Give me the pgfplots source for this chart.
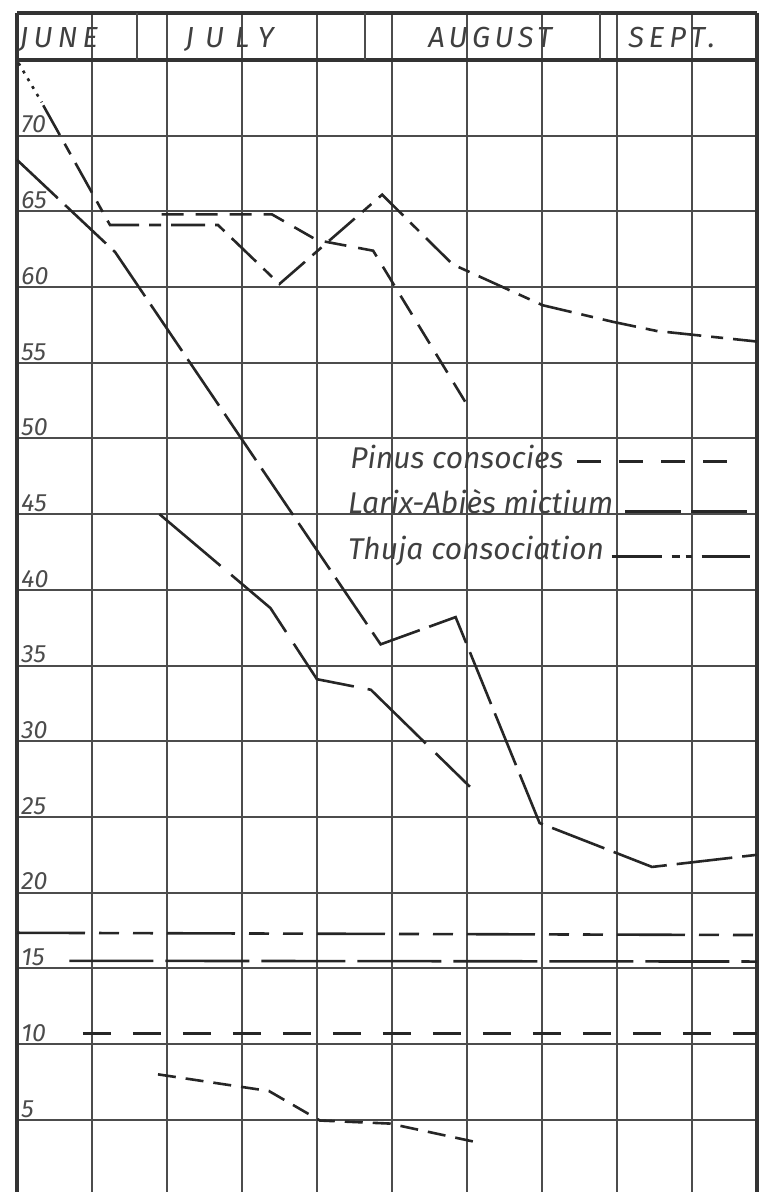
\documentclass[border=0pt]{standalone}
\usepackage{fontspec}
\setmainfont{Fira Sans}
\usepackage{pgfplots}
\pgfplotsset{compat=1.18}

\tikzset{
  ink/.style={draw=black!85, line width=1.3pt},
  thuja/.style={ink, dash pattern=on 17pt off 5pt on 6pt off 5pt},
  thujalong/.style={ink, dash pattern=on 34pt off 7pt on 10pt off 7pt on 10pt off 7pt},
  larix/.style={ink, dash pattern=on 28pt off 5pt},
  larixlong/.style={ink, dash pattern=on 40pt off 7pt},
  larixflat/.style={ink, dash pattern=on 42pt off 6pt},
  pinus/.style={ink, dash pattern=on 11pt off 6pt},
  pinusflat/.style={ink, dash pattern=on 14pt off 11pt},
  pinusleg/.style={ink, dash pattern=on 12pt off 9pt},
  lettering/.style={font=\itshape\fontsize{14.5}{15}\selectfont, text=black!75, inner sep=0pt},
}

\begin{document}
\begin{tikzpicture}
\begin{axis}[
  scale only axis, width=370pt, height=589.5pt,
  xmin=0, xmax=9.87, ymin=0.23, ymax=78.1,
  clip=false,
  axis line style={draw=none},
  xtick={1,...,9}, xticklabels={},
  ytick={5,10,...,70},
  yticklabels={5,10,15,20,25,30,35,40,45,50,55,60,65,70},
  major tick length=0pt,
  grid=major,
  grid style={line width=0.95pt, draw=black!70},
  yticklabel style={anchor=south west, inner sep=0pt, xshift=2pt, yshift=1pt,
    font=\itshape\fontsize{12.5}{13}\selectfont, text=black!70},
]
\coordinate (SW) at (rel axis cs:0,0);
\coordinate (NE) at (rel axis cs:1,1);

% frame and month header
\draw[line width=2pt, black!80] (axis cs:0,0.23) -- (axis cs:0,78.1);
\draw[line width=2.4pt, black!80] (axis cs:9.87,0.23) -- (axis cs:9.87,78.1);
\draw[line width=1.7pt, black!80] (axis cs:0,75) -- (axis cs:9.87,75);
\draw[line width=1.7pt, black!80] (axis cs:0,78.1) -- (axis cs:9.87,78.1);
\draw[line width=1pt, black!70] (axis cs:1.6,75) -- (axis cs:1.6,78.1);
\draw[line width=1pt, black!70] (axis cs:4.64,75) -- (axis cs:4.64,78.1);
\draw[line width=1pt, black!70] (axis cs:7.77,75) -- (axis cs:7.77,78.1);
\node[lettering, anchor=base west] at (axis cs:0.03,75.8) {\addfontfeature{LetterSpace=18}JUNE};
\node[lettering, anchor=base west] at (axis cs:2.24,75.8) {\addfontfeature{LetterSpace=38}JULY};
\node[lettering, anchor=base west] at (axis cs:5.48,75.8) {\addfontfeature{LetterSpace=15}AUGUST};
\node[lettering, anchor=base west] at (axis cs:8.15,75.8) {\addfontfeature{LetterSpace=17}SEPT.};

% Thuja consociation
\addplot[ink, dash pattern=on 1.5pt off 3pt] coordinates {(0.02,74.8) (0.33,72.2)};
\addplot[thuja] coordinates {
  (0.35,72.0) (1.24,64.1) (2.68,64.1) (3.5,60.2) (4.87,66.1)
  (5.81,61.5) (7.01,58.8) (7.95,57.7) (8.53,57.1) (9.87,56.4)};
\addplot[thujalong] coordinates {(0,17.35) (9.87,17.2)};

% Larix-Abies mictium
\addplot[larix] coordinates {
  (0,68.4) (1.31,62.3) (4.85,36.4) (5.85,38.2) (6.97,24.6) (8.47,21.7) (9.87,22.5)};
\addplot[larixlong] coordinates {
  (1.9,45.0) (3.38,38.8) (4.0,34.1) (4.72,33.4) (6.04,27.0)};
\addplot[larixflat] coordinates {(0.7,15.5) (9.87,15.45)};

% Pinus consocies
\addplot[pinus] coordinates {
  (1.93,64.8) (3.4,64.8) (4.0,63.1) (4.75,62.4) (6.03,52.0)};
\addplot[pinus, dash pattern=on 9pt off 5pt] coordinates {
  (1.88,8.0) (3.36,6.9) (4.04,4.95) (4.97,4.75) (6.1,3.55)};
\addplot[pinusflat] coordinates {(0.88,10.7) (9.87,10.7)};

% hand-lettered key
\node[lettering, anchor=base west, font=\itshape\fontsize{15}{16}\selectfont] at (axis cs:4.44,48.0) {Pinus consocies};
\node[lettering, anchor=base west, font=\itshape\fontsize{15}{16}\selectfont] at (axis cs:4.41,45.03) {Larix-Abiès mictium};
\node[lettering, anchor=base west, font=\itshape\fontsize{15}{16}\selectfont] at (axis cs:4.41,42.0) {Thuja consociation};
\draw[pinusleg] (axis cs:7.47,48.47) -- (axis cs:9.48,48.47);
\draw[larix] (axis cs:8.11,45.17) -- (axis cs:9.73,45.17);
\draw[ink, dash pattern=on 25pt off 5pt on 4pt off 3pt on 3pt off 5pt] (axis cs:7.93,42.2) -- (axis cs:9.77,42.2);
\end{axis}
\pgfresetboundingbox
\path (SW) ++(-8.5pt,0pt) rectangle ([shift={(1.5pt,6.5pt)}]NE);
\end{tikzpicture}
\end{document}
